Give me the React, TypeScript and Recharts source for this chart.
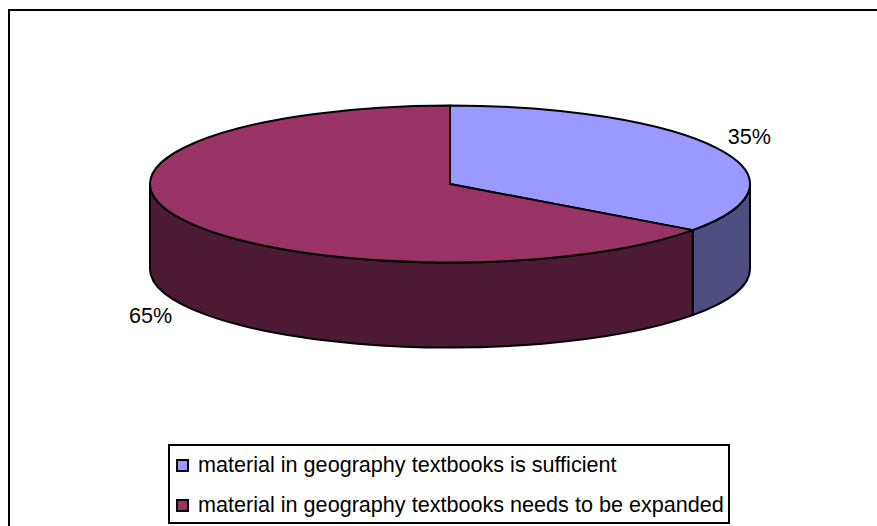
import React from 'react';
import { PieChart, Pie, Legend } from 'recharts';

const categories = [
  'material in geography textbooks is sufficient',
  'material in geography textbooks needs to be expanded',
];
const shares = [35, 65];
const topColors = ['#9999FF', '#993366'];
const sideColors = ['#4D4D80', '#4D1A33'];

const chartData = categories.map((name, i) => ({
  name,
  value: shares[i],
  fill: topColors[i],
  side: sideColors[i],
}));

const FONT = '"Liberation Sans", Arial, sans-serif';
const SQUASH = 78.5 / 300; // vertical flattening of the pie disc
const DEPTH = 85;
const RAD = Math.PI / 180;

const pointAt = (cx: number, cy: number, r: number, angle: number) => ({
  x: cx + r * Math.cos(angle * RAD),
  y: cy - r * SQUASH * Math.sin(angle * RAD),
});

const Slice3D = (props: any) => {
  const { cx, cy, outerRadius: r, startAngle, endAngle, fill, side } = props;
  const ry = r * SQUASH;
  const a = pointAt(cx, cy, r, startAngle);
  const b = pointAt(cx, cy, r, endAngle);
  const large = Math.abs(startAngle - endAngle) > 180 ? 1 : 0;
  const top = `M${cx},${cy} L${a.x},${a.y} A${r},${ry} 0 ${large} 1 ${b.x},${b.y} Z`;

  // only the front half of the rim shows a wall
  const wallStart = Math.min(startAngle, 0);
  const wallEnd = Math.max(endAngle, -180);
  let wall = null;
  if (wallStart > wallEnd) {
    const p = pointAt(cx, cy, r, wallStart);
    const q = pointAt(cx, cy, r, wallEnd);
    const d = `M${p.x},${p.y} A${r},${ry} 0 0 1 ${q.x},${q.y} L${q.x},${q.y + DEPTH} A${r},${ry} 0 0 0 ${p.x},${p.y + DEPTH} Z`;
    wall = <path d={d} fill={side} stroke="#000" strokeWidth={2} strokeLinejoin="round" />;
  }
  return (
    <g>
      {wall}
      <path d={top} fill={fill} stroke="#000" strokeWidth={2} strokeLinejoin="round" />
    </g>
  );
};

const renderPercent = (props: any) => {
  const { cx, cy, outerRadius, midAngle, value } = props;
  const rim = pointAt(cx, cy, outerRadius, midAngle);
  const front = Math.sin(midAngle * RAD) < 0;
  const dir = Math.cos(midAngle * RAD) > 0 ? 1 : -1;
  return (
    <text
      x={rim.x + dir * 32}
      y={rim.y + (front ? DEPTH + 11 : -12)}
      textAnchor="middle"
      dominantBaseline="central"
      fontFamily={FONT}
      fontSize={21.6}
      fill="#000"
    >
      {`${value}%`}
    </text>
  );
};

const LegendBox = ({ payload }: any) => (
  <div
    style={{
      boxSizing: 'border-box',
      width: 562,
      height: 80,
      border: '2px solid #000',
      background: '#fff',
      fontFamily: FONT,
      fontSize: 21.6,
      color: '#000',
      paddingLeft: 6,
    }}
  >
    {(payload || []).map((item: any) => (
      <div key={item.value} style={{ display: 'flex', alignItems: 'center', height: 40, marginTop: -1, marginBottom: 1, whiteSpace: 'nowrap' }}>
        <span
          style={{
            boxSizing: 'border-box',
            width: 13,
            height: 13,
            marginRight: 9,
            marginTop: 1,
            border: '2px solid #000',
            background: item.color,
          }}
        />
        {item.value}
      </div>
    ))}
  </div>
);

export default function App() {
  return (
    <div style={{ position: 'absolute', left: 0, top: 0, width: 877, height: 526, overflow: 'hidden', background: '#fff' }}>
      <div
        style={{
          position: 'absolute',
          left: 8,
          top: 9,
          width: 877,
          height: 526,
          borderLeft: '2px solid #000',
          borderTop: '2px solid #000',
        }}
      />
      <div style={{ position: 'absolute', left: 0, top: 0 }}>
        <PieChart width={877} height={526} margin={{ top: 0, right: 0, bottom: 0, left: 0 }}>
          <Pie
            data={chartData}
            dataKey="value"
            nameKey="name"
            cx={450}
            cy={184}
            outerRadius={300}
            startAngle={90}
            endAngle={-270}
            shape={Slice3D}
            label={renderPercent}
            labelLine={false}
            isAnimationActive={false}
          />
          <Legend content={<LegendBox />} wrapperStyle={{ left: 168, top: 444, width: 562, bottom: 'auto' }} />
        </PieChart>
      </div>
    </div>
  );
}
